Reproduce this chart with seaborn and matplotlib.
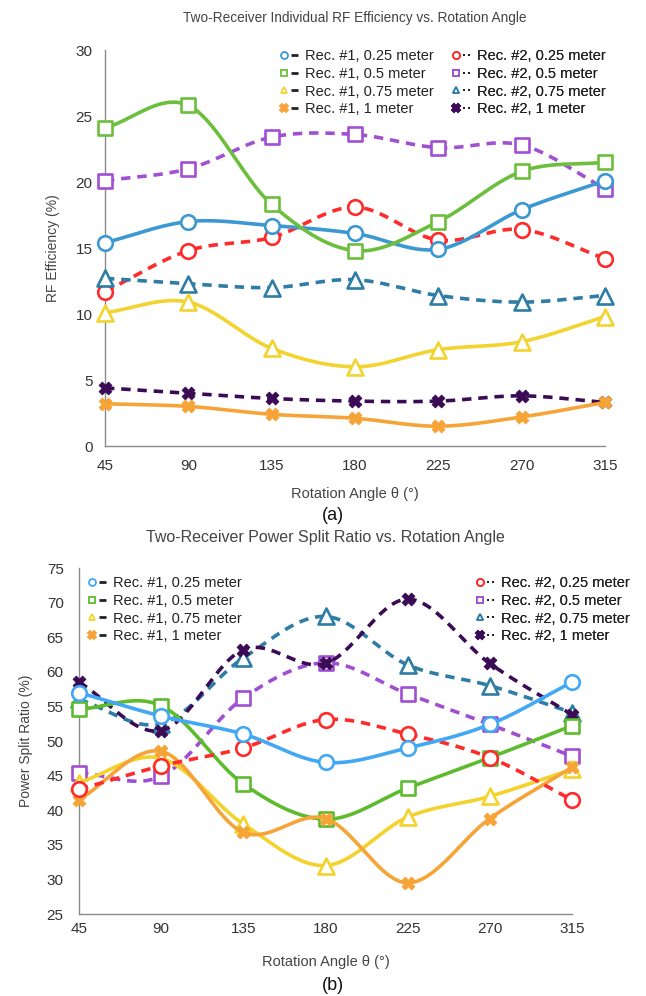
import numpy as np
import pandas as pd
import matplotlib
matplotlib.use("Agg")
import matplotlib.pyplot as plt
import seaborn as sns
from matplotlib.legend_handler import HandlerBase
from matplotlib.lines import Line2D

# ---- data ---------------------------------------------------------------
angles = [45, 90, 135, 180, 225, 270, 315]

labels_rec1 = ["Rec. #1, 0.25 meter", "Rec. #1, 0.5 meter",
               "Rec. #1, 0.75 meter", "Rec. #1, 1 meter"]
labels_rec2 = ["Rec. #2, 0.25 meter", "Rec. #2, 0.5 meter",
               "Rec. #2, 0.75 meter", "Rec. #2, 1 meter"]

# (a) individual RF efficiency, %
eff_r1_025 = [15.4, 17.0, 16.7, 16.1, 14.9, 17.9, 20.1]
eff_r1_05 = [24.1, 25.8, 18.3, 14.8, 17.0, 20.8, 21.5]
eff_r1_075 = [10.1, 10.9, 7.4, 6.0, 7.3, 7.9, 9.8]
eff_r1_1 = [3.2, 3.0, 2.4, 2.1, 1.5, 2.2, 3.3]
eff_r2_025 = [11.7, 14.8, 15.8, 18.1, 15.6, 16.4, 14.2]
eff_r2_05 = [20.1, 21.0, 23.4, 23.6, 22.6, 22.8, 19.5]
eff_r2_075 = [12.7, 12.3, 12.0, 12.6, 11.4, 10.9, 11.4]
eff_r2_1 = [4.4, 4.0, 3.6, 3.4, 3.4, 3.8, 3.3]

# (b) power split ratio, %
split_r1_025 = [57.0, 53.6, 51.0, 46.9, 49.0, 52.4, 58.5]
split_r1_05 = [54.6, 55.1, 43.8, 38.7, 43.2, 47.6, 52.2]
split_r1_075 = [44.0, 47.5, 38.0, 32.0, 39.0, 42.0, 45.9]
split_r1_1 = [41.5, 48.5, 36.8, 38.8, 29.5, 38.8, 46.2]
split_r2_025 = [43.0, 46.4, 49.0, 53.1, 51.0, 47.6, 41.5]
split_r2_05 = [45.4, 44.9, 56.2, 61.3, 56.8, 52.4, 47.8]
split_r2_075 = [56.0, 52.5, 62.0, 68.0, 61.0, 58.0, 54.1]
split_r2_1 = [58.5, 51.5, 63.2, 61.2, 70.5, 61.2, 53.8]

# ---- styling ------------------------------------------------------------
sns.set_theme(style="white")
plt.rcParams["font.family"] = ["Liberation Sans", "DejaVu Sans"]

W, H = 646, 996
fig = plt.figure(figsize=(W / 100, H / 100), dpi=100)

MARKERS = ["o", "s", "^", "X"]
MS = [10.5, 10.5, 11.5, 9.0]
LW_LINE = 2.6
LW_EDGE = 1.9
DASH = (0, (2.6, 1.9))

COLORS_A = {
    "r1": ["#3c98d2", "#6cbf3c", "#f2d330", "#f6a437"],
    "r2": ["#ff2a2a", "#a14fd3", "#2f7ca5", "#3b0c55"],
}
COLORS_B = {
    "r1": ["#42a8f3", "#5fbb2e", "#f3d22c", "#f6a437"],
    "r2": ["#ff2a2a", "#a04fd3", "#2f7ca5", "#3b0c55"],
}


def smooth_curve(xs, ys, n=40):
    """Cardinal-spline (Catmull-Rom) smoothing of a polyline."""
    xs = np.asarray(xs, float)
    ys = np.asarray(ys, float)
    k = len(xs)
    m = np.zeros(k)
    for i in range(k):
        if i == 0:
            m[i] = (ys[1] - ys[0]) / (xs[1] - xs[0])
        elif i == k - 1:
            m[i] = (ys[-1] - ys[-2]) / (xs[-1] - xs[-2])
        else:
            m[i] = (ys[i + 1] - ys[i - 1]) / (xs[i + 1] - xs[i - 1])
    px, py = [], []
    for i in range(k - 1):
        h = xs[i + 1] - xs[i]
        t = np.linspace(0, 1, n, endpoint=(i == k - 2))
        h00 = 2 * t**3 - 3 * t**2 + 1
        h10 = t**3 - 2 * t**2 + t
        h01 = -2 * t**3 + 3 * t**2
        h11 = t**3 - t**2
        px.append(xs[i] + t * h)
        py.append(h00 * ys[i] + h10 * h * m[i] + h01 * ys[i + 1] + h11 * h * m[i + 1])
    return np.concatenate(px), np.concatenate(py)


def draw_series(ax, ys, color, marker, ms, dashed, z):
    cx, cy = smooth_curve(angles, ys)
    curve = pd.DataFrame({"angle": cx, "value": cy})
    sns.lineplot(data=curve, x="angle", y="value", ax=ax, color=color,
                 linewidth=LW_LINE, linestyle=DASH if dashed else "-",
                 sort=False, estimator=None, zorder=z, clip_on=False)
    pts = pd.DataFrame({"angle": angles, "value": ys})
    face = color if marker == "X" else "white"
    sns.scatterplot(data=pts, x="angle", y="value", ax=ax, marker=marker,
                    s=ms**2, color=face, edgecolor=color,
                    linewidth=LW_EDGE if marker != "X" else 0.8,
                    zorder=z + 0.5, clip_on=False)


class MarkerStubHandler(HandlerBase):
    """Legend key: small marker followed by a short dark line stub."""

    def create_artists(self, legend, orig_handle, xdescent, ydescent,
                       width, height, fontsize, trans):
        y = height / 2 - ydescent
        x0 = -xdescent
        mk = orig_handle.get_marker()
        col = orig_handle.get_color()
        art_m = Line2D([x0 + width * 0.22], [y], marker=mk, linestyle="none",
                       markersize=5.0 if mk != "X" else 5.5,
                       markerfacecolor=col if mk == "X" else "white",
                       markeredgecolor=col, markeredgewidth=1.3,
                       transform=trans)
        if orig_handle.get_linestyle() == "-":
            stub = Line2D([x0 + width * 0.58, x0 + width * 0.92], [y, y],
                          color="#222222", linewidth=2.0,
                          solid_capstyle="butt", transform=trans)
        else:
            stub = Line2D([x0 + width * 0.60, x0 + width * 0.86], [y, y],
                          color="#222222", linestyle="none", marker="s",
                          markersize=1.8, markeredgewidth=0,
                          transform=trans)
        return [art_m, stub]


def add_legend(ax, labels, colors, dashed, anchor_px):
    handles = [Line2D([], [], color=c, marker=m, linestyle="--" if dashed else "-")
               for c, m in zip(colors, MARKERS)]
    leg = ax.legend(handles, labels, loc="upper left",
                    bbox_to_anchor=(anchor_px[0] / W, 1 - anchor_px[1] / H),
                    bbox_transform=fig.transFigure, frameon=False,
                    fontsize=10.5, handlelength=1.35, handletextpad=0.35,
                    labelspacing=0.26, borderpad=0, borderaxespad=0,
                    handler_map={Line2D: MarkerStubHandler()})
    for t in leg.get_texts():
        t.set_color("#222222")
    ax.add_artist(leg)


def style_axes(ax, ylim, yticks):
    ax.set_xlim(45, 315)
    ax.set_ylim(*ylim)
    ax.set_xticks(angles)
    ax.set_yticks(yticks)
    for side in ("top", "right"):
        ax.spines[side].set_visible(False)
    for side in ("left", "bottom"):
        ax.spines[side].set_color("#8a8a8a")
        ax.spines[side].set_linewidth(1.0)
    ax.tick_params(length=0, labelsize=11, colors="#333333")
    ax.grid(False)


# ---- (a) RF efficiency ---------------------------------------------------
ax1 = fig.add_axes([105 / W, 1 - 446 / H, 500 / W, 396 / H])
style_axes(ax1, (0, 30), [0, 5, 10, 15, 20, 25, 30])
ax1.tick_params(axis="y", pad=9)
ax1.tick_params(axis="x", pad=9)

rec2_a = [eff_r2_025, eff_r2_05, eff_r2_075, eff_r2_1]
rec1_a = [eff_r1_025, eff_r1_05, eff_r1_075, eff_r1_1]
for i, ys in enumerate(rec2_a):
    draw_series(ax1, ys, COLORS_A["r2"][i], MARKERS[i], MS[i], True, 3 + i)
for i, ys in enumerate(rec1_a):
    draw_series(ax1, ys, COLORS_A["r1"][i], MARKERS[i], MS[i], False, 10 + i)

ax1.set_xlabel("Rotation Angle θ (°)", fontsize=10.5, color="#444444", va="center")
ax1.xaxis.set_label_coords(0.5, (446 - 494) / 396)
ax1.set_ylabel("RF Efficiency (%)", fontsize=10, color="#444444", va="center")
ax1.yaxis.set_label_coords((53 - 105) / 500, 0.5)
ax1.set_title("Two-Receiver Individual RF Efficiency vs. Rotation Angle",
              fontsize=9.8, color="#444444", va="center", pad=0,
              y=(446 - 18) / 396)
add_legend(ax1, labels_rec1, COLORS_A["r1"], False, (280, 49))
add_legend(ax1, labels_rec2, COLORS_A["r2"], True, (452, 49))
fig.text(333 / W, 1 - 516 / H, "(a)", ha="center", va="center",
         fontsize=13, color="#111111")

# ---- (b) power split ratio ----------------------------------------------
ax2 = fig.add_axes([79 / W, 1 - 914 / H, 493 / W, 346 / H])
style_axes(ax2, (25, 75), [25, 30, 35, 40, 45, 50, 55, 60, 65, 70, 75])
ax2.tick_params(axis="y", pad=11)
ax2.tick_params(axis="x", pad=6)

order_b = [
    (split_r2_05, COLORS_B["r2"][1], 1, True),
    (split_r2_075, COLORS_B["r2"][2], 2, True),
    (split_r2_1, COLORS_B["r2"][3], 3, True),
    (split_r1_05, COLORS_B["r1"][1], 1, False),
    (split_r1_075, COLORS_B["r1"][2], 2, False),
    (split_r1_1, COLORS_B["r1"][3], 3, False),
    (split_r2_025, COLORS_B["r2"][0], 0, True),
    (split_r1_025, COLORS_B["r1"][0], 0, False),
]
for z, (ys, col, mi, dashed) in enumerate(order_b):
    draw_series(ax2, ys, col, MARKERS[mi], MS[mi], dashed, 3 + 2 * z)

ax2.set_xlabel("Rotation Angle θ (°)", fontsize=10.5, color="#444444", va="center")
ax2.xaxis.set_label_coords(0.5, (914 - 962) / 346)
ax2.set_ylabel("Power Split Ratio (%)", fontsize=10, color="#444444", va="center")
ax2.yaxis.set_label_coords((26 - 79) / 493, 0.5)
ax2.set_title("Two-Receiver Power Split Ratio vs. Rotation Angle",
              fontsize=11.5, color="#444444", va="center", pad=0,
              y=(914 - 537) / 346)
add_legend(ax2, labels_rec1, COLORS_B["r1"], False, (88, 576))
add_legend(ax2, labels_rec2, COLORS_B["r2"], True, (476, 576))
fig.text(333 / W, 1 - 985 / H, "(b)", ha="center", va="center",
         fontsize=13, color="#111111")

fig.savefig("out.png", dpi=100)
